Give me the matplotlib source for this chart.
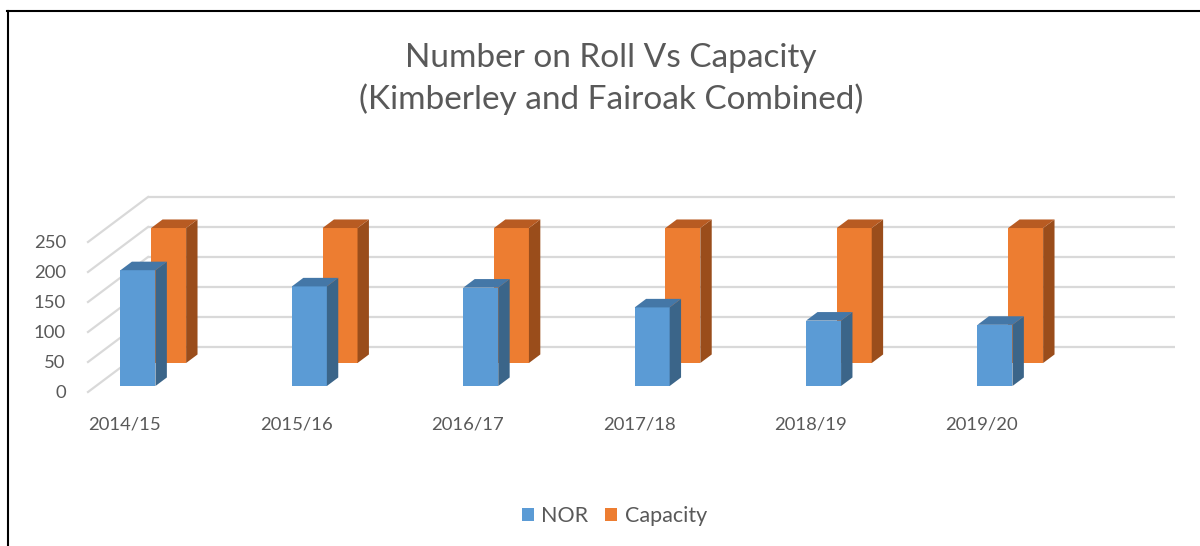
"""Number on roll vs capacity, Kimberley and Fairoak combined (Excel-style 3-D columns)."""

import matplotlib

matplotlib.use("Agg")
import matplotlib.pyplot as plt
from matplotlib.lines import Line2D
from matplotlib.patches import Patch, Polygon

YEARS = ["2014/15", "2015/16", "2016/17", "2017/18", "2018/19", "2019/20"]
NOR = [193, 166, 164, 131, 109, 102]
CAPACITY = [225, 225, 225, 225, 225, 225]
Y_TICKS = [0, 50, 100, 150, 200, 250]

TEXT = "#595959"
GRID = "#d9d9d9"
NOR_FACE, NOR_TOP, NOR_SIDE = "#5b9bd5", "#4477a7", "#3b6589"
CAP_FACE, CAP_TOP, CAP_SIDE = "#ed7d31", "#b85b22", "#9a4d1b"

W, H, DPI = 1200, 546, 100
PX_PER_CAT = 171.4        # front-plane pixels per category
PX_PER_UNIT = 30 / 50     # pixels per value unit
DEPTH_PX = (60, 45)       # oblique offset of the back wall (right, up)
BAR_W = 0.204
BAR_DEPTH = 0.19          # fraction of full depth

plt.rcParams["font.family"] = ["Lato", "DejaVu Sans"]

fig = plt.figure(figsize=(W / DPI, H / DPI), dpi=DPI)
# front plane: x=0 category centre at px 130, value 0 at px 392
x_left_px, x_right_px = 88, 1115
ax = fig.add_axes([x_left_px / W, (H - 392) / H, (x_right_px - x_left_px) / W, 150 / H])
ax.set_xlim((x_left_px - 130) / PX_PER_CAT, (x_right_px - 130) / PX_PER_CAT)
ax.set_ylim(0, 250)
xmin, xmax = ax.get_xlim()

full_dx = DEPTH_PX[0] / PX_PER_CAT
full_dy = DEPTH_PX[1] / PX_PER_UNIT


def offset(depth):
    return depth * full_dx, depth * full_dy


# back wall gridlines and side wall diagonals
for v in Y_TICKS:
    ax.plot([xmin + full_dx, xmax + full_dx], [v + full_dy] * 2, color=GRID, lw=1.6,
            clip_on=False, zorder=1, solid_capstyle="butt")
    ax.plot([xmin, xmin + full_dx], [v, v + full_dy], color=GRID, lw=1.6,
            clip_on=False, zorder=1)


def draw_series(values, depth, face, top, side, z):
    dx, dy = offset(depth)
    bx, by = offset(BAR_DEPTH)
    for i, val in enumerate(values):
        left = i - BAR_W / 2 + dx
        right = left + BAR_W
        ax.bar(left, val, width=BAR_W, bottom=dy, align="edge", color=face,
               edgecolor="none", clip_on=False, zorder=z)
        ax.add_patch(Polygon([(right, dy), (right + bx, dy + by), (right + bx, val + dy + by),
                              (right, val + dy)], closed=True, facecolor=side,
                             edgecolor="none", clip_on=False, zorder=z))
        ax.add_patch(Polygon([(left, val + dy), (right, val + dy), (right + bx, val + dy + by),
                              (left + bx, val + dy + by)], closed=True, facecolor=top,
                             edgecolor="none", clip_on=False, zorder=z))


draw_series(CAPACITY, 0.644, CAP_FACE, CAP_TOP, CAP_SIDE, 2)
draw_series(NOR, 0.133, NOR_FACE, NOR_TOP, NOR_SIDE, 3)

ax.set_yticks(Y_TICKS)
ax.set_yticklabels([str(t) for t in Y_TICKS])
ax.set_xticks([i - 0.03 for i in range(len(YEARS))])
ax.set_xticklabels(YEARS)
ax.tick_params(axis="both", length=0, labelsize=13.3, labelcolor=TEXT)
ax.tick_params(axis="y", pad=16)
ax.tick_params(axis="x", pad=18)
for s in ax.spines.values():
    s.set_visible(False)
ax.set_facecolor("none")

fig.text(0.509, 1 - 79 / H, "Number on Roll Vs Capacity\n(Kimberley and Fairoak Combined)",
         ha="center", va="center", fontsize=24, color=TEXT, linespacing=1.38)

handles = [Patch(facecolor=NOR_FACE, label="NOR"), Patch(facecolor=CAP_FACE, label="Capacity")]
fig.legend(handles=handles, loc="center", bbox_to_anchor=(0.512, 1 - 516 / H), ncol=2,
           frameon=False, fontsize=15.5, labelcolor=TEXT, handlelength=0.55, handleheight=0.55,
           handletextpad=0.35, columnspacing=0.8)

# chart frame edges visible in the screenshot
fig.add_artist(Line2D([8 / W, 8 / W], [0, 1 - 11 / H], color="black", lw=1.5))
fig.add_artist(Line2D([7 / W, 1], [1 - 11 / H, 1 - 11 / H], color="black", lw=1.5))

fig.savefig("out.png", dpi=DPI)
